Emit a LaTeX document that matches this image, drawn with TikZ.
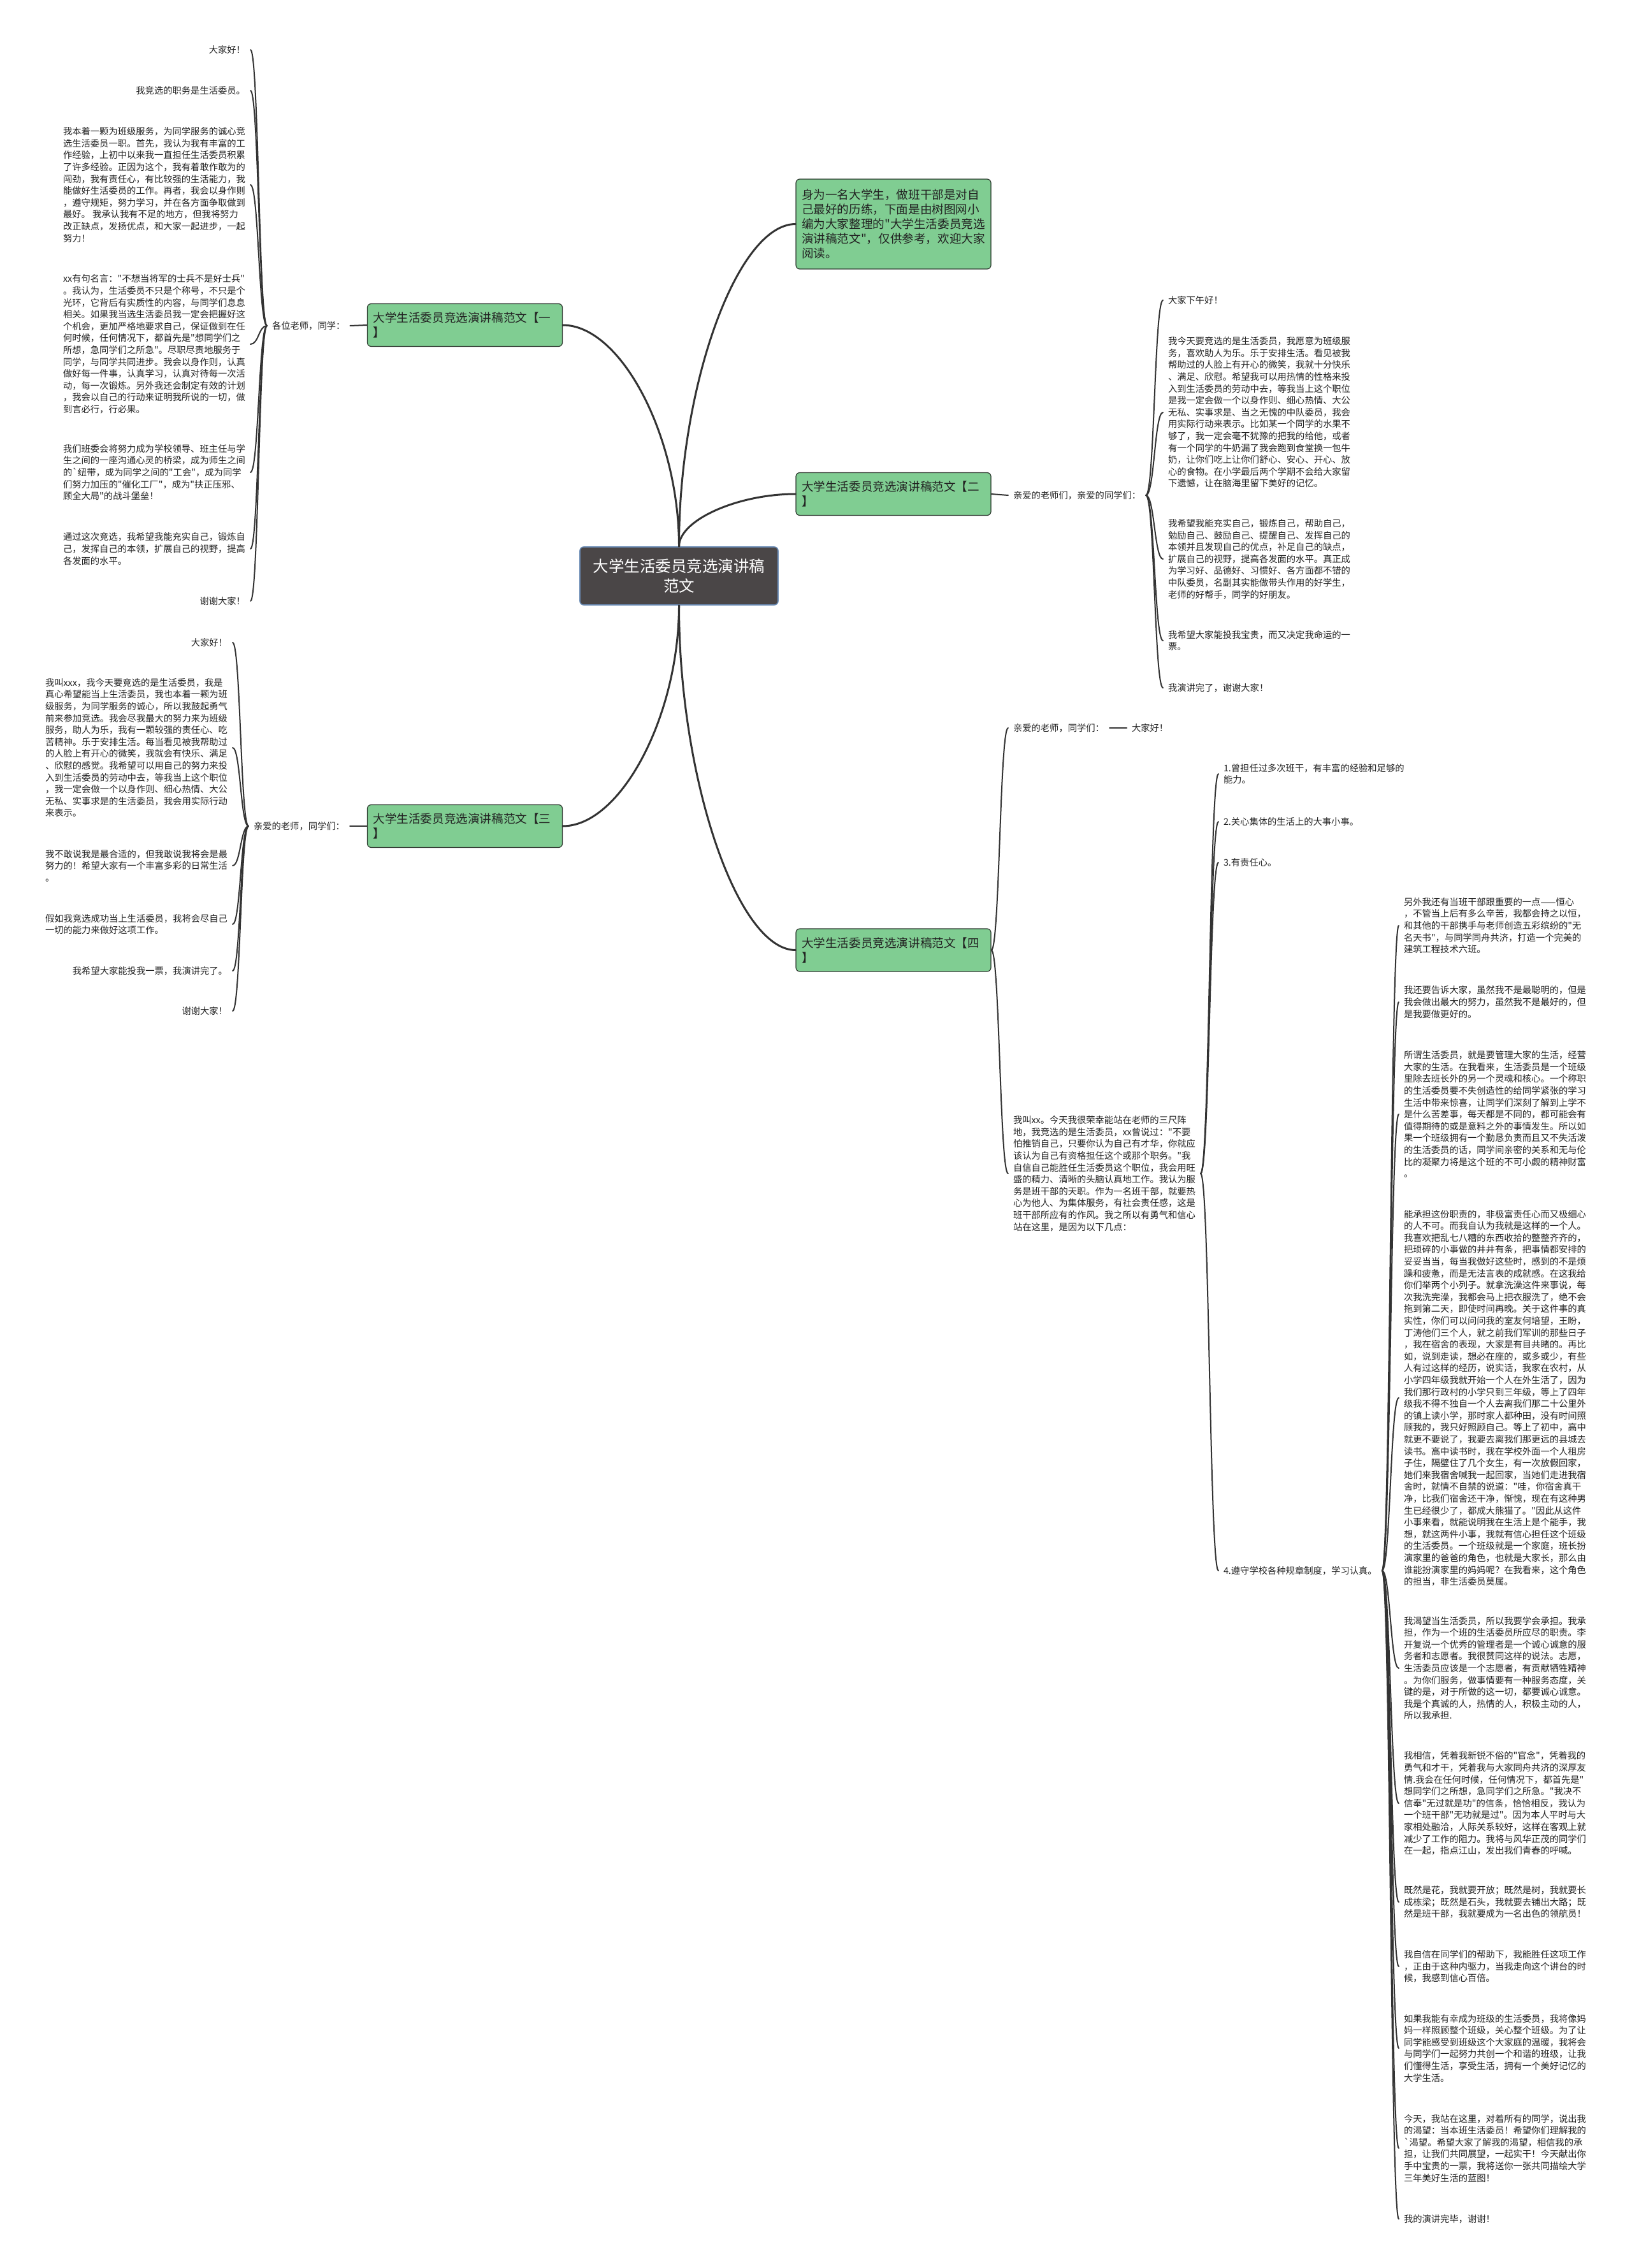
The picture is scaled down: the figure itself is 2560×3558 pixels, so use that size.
\documentclass[tikz,border=0pt]{standalone}
\usepackage{fontspec}
\newfontfamily\cjk{Noto Sans CJK SC}
\usetikzlibrary{calc}
\definecolor{gfill}{HTML}{80CD92}
\definecolor{gline}{HTML}{2E3A30}
\definecolor{rfill}{HTML}{4A4647}
\definecolor{rline}{HTML}{6A8BB5}
\definecolor{lc}{HTML}{333333}
\definecolor{tc}{HTML}{222222}
\newcommand\lfnt{\cjk\fontsize{7.15pt}{9.3pt}\selectfont}
\newcommand\gfnt{\cjk\fontsize{9.3pt}{11.5pt}\selectfont}
\newcommand\rfnt{\cjk\fontsize{12.25pt}{15.5pt}\selectfont}
\tikzset{
  leafL/.style={anchor=east, font=\lfnt, align=left, inner sep=0pt, outer xsep=4pt, outer ysep=0pt, text=tc},
  leafR/.style={anchor=west, font=\lfnt, align=left, inner sep=0pt, outer xsep=4pt, outer ysep=0pt, text=tc},
  gbox/.style={draw=gline, line width=0.6pt, fill=gfill, rounded corners=3pt, minimum width=153pt, minimum height=33.5pt, text width=144pt, inner xsep=4.5pt, align=left, font=\gfnt, text=tc},
  rootbox/.style={draw=rline, line width=0.8pt, fill=rfill, rounded corners=3pt, minimum width=155.5pt, minimum height=45.5pt, align=center, font=\rfnt, text=white},
  twig/.style={draw=lc, line width=1pt, line cap=round, to path={let \p1=(\tikztostart), \p2=(\tikztotarget) in .. controls ({0.5*\x1+0.5*\x2},\y1) and ({0.5*\x1+0.5*\x2},\y2) .. (\tikztotarget)}},
  trunk/.style={draw=lc, line width=1.5pt, line cap=round, to path={let \p1=(\tikztostart), \p2=(\tikztotarget) in .. controls (\x1,{0.5*\y1+0.5*\y2}) and ({0.5*\x1+0.5*\x2},\y2) .. (\tikztotarget)}},
  stem/.style={draw=lc, line width=1pt, line cap=round}
}
\begin{document}
\begin{tikzpicture}[x=0.5pt, y=-0.5pt]
\fill[white] (0,0) rectangle (2560,3558);
\useasboundingbox (0,0) rectangle (2560,3558);

% central and first level
\node[rootbox] (root) at (1065.5,903.5) {大学生活委员竞选演讲稿\\范文};
\node[gbox, minimum height=70.5pt] (intro) at (1402,351.5) {身为一名大学生，做班干部是对自\\己最好的历练，下面是由树图网小\\编为大家整理的"大学生活委员竞选\\演讲稿范文"，仅供参考，欢迎大家\\阅读。};
\node[gbox] (b1) at (729.5,510) {大学生活委员竞选演讲稿范文【一\\】};
\node[gbox] (b2) at (1402,775) {大学生活委员竞选演讲稿范文【二\\】};
\node[gbox] (b3) at (729.5,1296) {大学生活委员竞选演讲稿范文【三\\】};
\node[gbox] (b4) at (1402,1490.5) {大学生活委员竞选演讲稿范文【四\\】};

% branch 1
\node[leafR] (lab1) at (419,511) {各位老师，同学：};
\node[leafL] (a1) at (393,78) {大家好！};
\node[leafL] (a2) at (393,142) {我竞选的职务是生活委员。};
\node[leafL] (a3) at (393,290) {我本着一颗为班级服务，为同学服务的诚心竞\\选生活委员一职。首先，我认为我有丰富的工\\作经验，上初中以来我一直担任生活委员积累\\了许多经验。正因为这个，我有着敢作敢为的\\闯劲，我有责任心，有比较强的生活能力，我\\能做好生活委员的工作。再者，我会以身作则\\，遵守规矩，努力学习，并在各方面争取做到\\最好。 我承认我有不足的地方，但我将努力\\改正缺点，发扬优点，和大家一起进步，一起\\努力！};
\node[leafL] (a4) at (393,540) {xx有句名言："不想当将军的士兵不是好士兵"\\。我认为，生活委员不只是个称号，不只是个\\光环，它背后有实质性的内容，与同学们息息\\相关。如果我当选生活委员我一定会把握好这\\个机会，更加严格地要求自己，保证做到在任\\何时候，任何情况下，都首先是"想同学们之\\所想，急同学们之所急"。尽职尽责地服务于\\同学，与同学共同进步。我会以身作则，认真\\做好每一件事，认真学习，认真对待每一次活\\动，每一次锻炼。另外我还会制定有效的计划\\，我会以自己的行动来证明我所说的一切，做\\到言必行，行必果。};
\node[leafL] (a5) at (393,741) {我们班委会将努力成为学校领导、班主任与学\\生之间的一座沟通心灵的桥梁，成为师生之间\\的`纽带，成为同学之间的"工会"，成为同学\\们努力加压的"催化工厂"，成为"扶正压邪、\\顾全大局"的战斗堡垒！};
\node[leafL] (a6) at (393,861) {通过这次竞选，我希望我能充实自己，锻炼自\\己，发挥自己的本领，扩展自己的视野，提高\\各发面的水平。};
\node[leafL] (a7) at (393,943) {谢谢大家！};

% branch 2
\node[leafR] (lab2) at (1582,777) {亲爱的老师们，亲爱的同学们：};
\node[leafR] (d1) at (1825,471) {大家下午好！};
\node[leafR] (d2) at (1825,647) {我今天要竞选的是生活委员，我愿意为班级服\\务，喜欢助人为乐。乐于安排生活。看见被我\\帮助过的人脸上有开心的微笑，我就十分快乐\\、满足、欣慰。希望我可以用热情的性格来投\\入到生活委员的劳动中去，等我当上这个职位\\是我一定会做一个以身作则、细心热情、大公\\无私、实事求是、当之无愧的中队委员，我会\\用实际行动来表示。比如某一个同学的水果不\\够了，我一定会毫不犹豫的把我的给他，或者\\有一个同学的牛奶漏了我会跑到食堂换一包牛\\奶，让你们吃上让你们舒心、安心、开心、放\\心的食物。在小学最后两个学期不会给大家留\\下遗憾，让在脑海里留下美好的记忆。};
\node[leafR] (d3) at (1825,877) {我希望我能充实自己，锻炼自己，帮助自己，\\勉励自己、鼓励自己、提醒自己、发挥自己的\\本领并且发现自己的优点，补足自己的缺点，\\扩展自己的视野，提高各发面的水平。真正成\\为学习好、品德好、习惯好、各方面都不错的\\中队委员，名副其实能做带头作用的好学生，\\老师的好帮手，同学的好朋友。};
\node[leafR] (d4) at (1825,1005) {我希望大家能投我宝贵，而又决定我命运的一\\票。};
\node[leafR] (d5) at (1825,1079) {我演讲完了，谢谢大家！};

% branch 3
\node[leafR] (lab3) at (390,1296) {亲爱的老师，同学们：};
\node[leafL] (c1) at (365,1008) {大家好！};
\node[leafL] (c2) at (365,1173) {我叫xxx，我今天要竞选的是生活委员，我是\\真心希望能当上生活委员，我也本着一颗为班\\级服务，为同学服务的诚心，所以我鼓起勇气\\前来参加竞选。我会尽我最大的努力来为班级\\服务，助人为乐，我有一颗较强的责任心、吃\\苦精神。乐于安排生活。每当看见被我帮助过\\的人脸上有开心的微笑，我就会有快乐、满足\\、欣慰的感觉。我希望可以用自己的努力来投\\入到生活委员的劳动中去，等我当上这个职位\\，我一定会做一个以身作则、细心热情、大公\\无私、实事求是的生活委员，我会用实际行动\\来表示。};
\node[leafL] (c3) at (365,1358) {我不敢说我是最合适的，但我敢说我将会是最\\努力的！希望大家有一个丰富多彩的日常生活\\。};
\node[leafL] (c4) at (365,1450) {假如我竞选成功当上生活委员，我将会尽自己\\一切的能力来做好这项工作。};
\node[leafL] (c5) at (365,1523) {我希望大家能投我一票，我演讲完了。};
\node[leafL] (c6) at (365,1586) {谢谢大家！};

% branch 4
\node[leafR] (lab4) at (1582,1142) {亲爱的老师，同学们：};
\node[leafR] (hi4) at (1768,1142) {大家好！};
\node[leafR] (p4) at (1582,1841) {我叫xx。今天我很荣幸能站在老师的三尺阵\\地，我竞选的是生活委员，xx曾说过："不要\\怕推销自己，只要你认为自己有才华，你就应\\该认为自己有资格担任这个或那个职务。"我\\自信自己能胜任生活委员这个职位，我会用旺\\盛的精力、清晰的头脑认真地工作。我认为服\\务是班干部的天职。作为一名班干部，就要热\\心为他人、为集体服务，有社会责任感，这是\\班干部所应有的作风。我之所以有勇气和信心\\站在这里，是因为以下几点：};
\node[leafR] (i1) at (1912,1214) {1.曾担任过多次班干，有丰富的经验和足够的\\能力。};
\node[leafR] (i2) at (1912,1289) {2.关心集体的生活上的大事小事。};
\node[leafR] (i3) at (1912,1353) {3.有责任心。};
\node[leafR] (i4) at (1912,2464) {4.遵守学校各种规章制度，学习认真。};

\node[leafR] (r1) at (2195,1452) {另外我还有当班干部跟重要的一点——恒心\\，不管当上后有多么辛苦，我都会持之以恒，\\和其他的干部携手与老师创造五彩缤纷的"无\\名天书"，与同学同舟共济，打造一个完美的\\建筑工程技术六班。};
\node[leafR] (r2) at (2195,1572) {我还要告诉大家，虽然我不是最聪明的，但是\\我会做出最大的努力，虽然我不是最好的，但\\是我要做更好的。};
\node[leafR] (r3) at (2195,1748) {所谓生活委员，就是要管理大家的生活，经营\\大家的生活。在我看来，生活委员是一个班级\\里除去班长外的另一个灵魂和核心。一个称职\\的生活委员要不失创造性的给同学紧张的学习\\生活中带来惊喜，让同学们深刻了解到上学不\\是什么苦差事，每天都是不同的，都可能会有\\值得期待的或是意料之外的事情发生。所以如\\果一个班级拥有一个勤恳负责而且又不失活泼\\的生活委员的话，同学间亲密的关系和无与伦\\比的凝聚力将是这个班的不可小觑的精神财富\\。};
\node[leafR] (r4) at (2195,2193) {能承担这份职责的，非极富责任心而又极细心\\的人不可。而我自认为我就是这样的一个人。\\我喜欢把乱七八糟的东西收拾的整整齐齐的，\\把琐碎的小事做的井井有条，把事情都安排的\\妥妥当当，每当我做好这些时，感到的不是烦\\躁和疲惫，而是无法言表的成就感。在这我给\\你们举两个小列子。就拿洗澡这件来事说，每\\次我洗完澡，我都会马上把衣服洗了，绝不会\\拖到第二天，即使时间再晚。关于这件事的真\\实性，你们可以问问我的室友何培望，王盼，\\丁涛他们三个人，就之前我们军训的那些日子\\，我在宿舍的表现，大家是有目共睹的。再比\\如，说到走读，想必在座的，或多或少，有些\\人有过这样的经历，说实话，我家在农村，从\\小学四年级我就开始一个人在外生活了，因为\\我们那行政村的小学只到三年级，等上了四年\\级我不得不独自一个人去离我们那二十公里外\\的镇上读小学，那时家人都种田，没有时间照\\顾我的，我只好照顾自己。等上了初中，高中\\就更不要说了，我要去离我们那更远的县城去\\读书。高中读书时，我在学校外面一个人租房\\子住，隔壁住了几个女生，有一次放假回家，\\她们来我宿舍喊我一起回家，当她们走进我宿\\舍时，就情不自禁的说道："哇，你宿舍真干\\净，比我们宿舍还干净，惭愧，现在有这种男\\生已经很少了，都成大熊猫了。"因此从这件\\小事来看，就能说明我在生活上是个能手，我\\想，就这两件小事，我就有信心担任这个班级\\的生活委员。一个班级就是一个家庭，班长扮\\演家里的爸爸的角色，也就是大家长，那么由\\谁能扮演家里的妈妈呢？在我看来，这个角色\\的担当，非生活委员莫属。};
\node[leafR] (r5) at (2195,2617) {我渴望当生活委员，所以我要学会承担。我承\\担，作为一个班的生活委员所应尽的职责。李\\开复说一个优秀的管理者是一个诚心诚意的服\\务者和志愿者。我很赞同这样的说法。志愿，\\生活委员应该是一个志愿者，有贡献牺牲精神\\。为你们服务，做事情要有一种服务态度，关\\键的是，对于所做的这一切，都要诚心诚意。\\我是个真诚的人，热情的人，积极主动的人，\\所以我承担.};
\node[leafR] (r6) at (2195,2829) {我相信，凭着我新锐不俗的"官念"，凭着我的\\勇气和才干，凭着我与大家同舟共济的深厚友\\情.我会在任何时候，任何情况下，都首先是"\\想同学们之所想，急同学们之所急。"我决不\\信奉"无过就是功"的信条，恰恰相反，我认为\\一个班干部"无功就是过"。因为本人平时与大\\家相处融洽，人际关系较好，这样在客观上就\\减少了工作的阻力。我将与风华正茂的同学们\\在一起，指点江山，发出我们青春的呼喊。};
\node[leafR] (r7) at (2195,2984) {既然是花，我就要开放；既然是树，我就要长\\成栋梁；既然是石头，我就要去铺出大路；既\\然是班干部，我就要成为一名出色的领航员！};
\node[leafR] (r8) at (2195,3085) {我自信在同学们的帮助下，我能胜任这项工作\\，正由于这种内驱力，当我走向这个讲台的时\\候，我感到信心百倍。};
\node[leafR] (r9) at (2195,3213) {如果我能有幸成为班级的生活委员，我将像妈\\妈一样照顾整个班级，关心整个班级。为了让\\同学能感受到班级这个大家庭的温暖，我将会\\与同学们一起努力共创一个和谐的班级，让我\\们懂得生活，享受生活，拥有一个美好记忆的\\大学生活。};
\node[leafR] (r10) at (2195,3370) {今天，我站在这里，对着所有的同学，说出我\\的渴望：当本班生活委员！希望你们理解我的\\`渴望。希望大家了解我的渴望，相信我的承\\担，让我们共同展望，一起实干！今天献出你\\手中宝贵的一票，我将送你一张共同描绘大学\\三年美好生活的蓝图！};
\node[leafR] (r11) at (2195,3481) {我的演讲完毕，谢谢！};

% trunk connectors
\draw[trunk] (root.north) to (intro.west);
\draw[trunk] (root.north) to (b1.east);
\draw[trunk] (root.north) to (b2.west);
\draw[trunk] (root.south) to (b3.east);
\draw[trunk] (root.south) to (b4.west);

% stems to labels
\draw[stem] (b1.west) -- (lab1.east);
\draw[stem] (b2.east) -- (lab2.west);
\draw[stem] (b3.west) -- (lab3.east);
\draw[stem] (lab4.east) -- (hi4.west);

% twigs
\foreach \k in {a1,a2,a3,a4,a5,a6,a7} \draw[twig] (lab1.west) to (\k.east);
\foreach \k in {d1,d2,d3,d4,d5} \draw[twig] (lab2.east) to (\k.west);
\foreach \k in {c1,c2,c3,c4,c5,c6} \draw[twig] (lab3.west) to (\k.east);
\draw[twig] (b4.east) to (lab4.west);
\draw[twig] (b4.east) to (p4.west);
\foreach \k in {i1,i2,i3,i4} \draw[twig] (p4.east) to (\k.west);
\foreach \k in {r1,r2,r3,r4,r5,r6,r7,r8,r9,r10,r11} \draw[twig] (i4.east) to (\k.west);
\end{tikzpicture}
\end{document}
